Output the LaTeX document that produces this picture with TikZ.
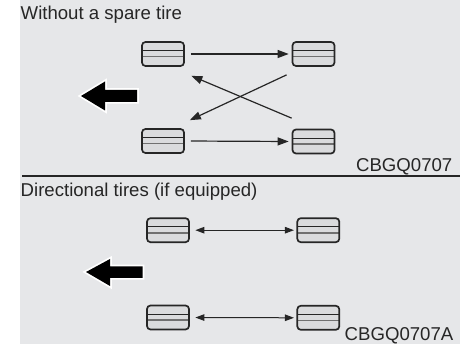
\documentclass[tikz,border=0pt]{standalone}
\usepackage{fontspec}
\setmainfont{Liberation Sans}
\usetikzlibrary{arrows.meta}
\definecolor{panelgrey}{HTML}{E6E7E9}
\definecolor{tirefill}{HTML}{DADBDD}
\definecolor{bandline}{HTML}{707070}
\tikzset{
  tire/.style={draw=black!85, line width=1.7pt, rounded corners=3.5pt, fill=tirefill,
    minimum width=42pt, minimum height=24pt, inner sep=0pt,
    path picture={
      \draw[black!85, line width=1.1pt] ([yshift=3.3pt]path picture bounding box.west) -- ([yshift=3.3pt]path picture bounding box.east);
      \draw[bandline, line width=1.6pt] ([yshift=-2.7pt]path picture bounding box.west) -- ([yshift=-2.7pt]path picture bounding box.east);
    }},
  rot/.style={line width=1.2pt, black!85, -{Triangle[length=11pt,width=8pt]}},
  dir/.style={line width=1pt, black!85, {Triangle[length=9pt,width=6.5pt]}-{Triangle[length=9pt,width=6.5pt]}},
  lbl/.style={font=\fontsize{18.6}{21}\selectfont, text=black!85, inner sep=0pt},
  fwd/.style={fill=black},
  halo/.style={draw=white, line width=3.5pt, line join=miter},
}
\begin{document}
\begin{tikzpicture}[x=1pt,y=-1pt]
\useasboundingbox (0,0) rectangle (460,344);
\fill[panelgrey] (20,0) rectangle (460,344);
% divider
\draw[black!85, line width=1.2pt] (22,176) -- (460,176);
% titles
\node[lbl, anchor=base west] (t1) at (20.5,20) {Without a spare tire};
\node[lbl, anchor=base east] (c1) at (452.5,172) {CBGQ0707};
\node[lbl, anchor=base west] (t2) at (20.5,197) {Directional tires (if equipped)};
\node[lbl, anchor=base east] (c2) at (453.5,340.5) {CBGQ0707A};
% upper panel tires
\node[tire] (tl) at (163,54) {};
\node[tire] (tr) at (313.5,54) {};
\node[tire] (bl) at (163,141) {};
\node[tire] (br) at (313.5,141.5) {};
\draw[rot, shorten <=6pt, shorten >=3pt] (tl.east) -- (tr.west);
\draw[rot, shorten <=6pt, shorten >=3pt] (bl.east) -- (br.west);
\draw[rot] ([shift={(-5,8)}]tr.south west) -- ([shift={(5,-8)}]bl.north east);
\draw[rot] ([shift={(0,-10.5)}]br.north west) -- ([shift={(6.5,9)}]tl.south east);
% upper forward arrow
\path[halo] (81,96) -- (105,81.5) -- (105,90) -- (137,90) -- (137,102) -- (105,102) -- (105,110.5) -- cycle;
\path[fwd] (81,96) -- (105,81.5) -- (105,90) -- (137,90) -- (137,102) -- (105,102) -- (105,110.5) -- cycle;
% lower panel tires
\node[tire] (tl2) at (168,230.2) {};
\node[tire] (tr2) at (318.3,230.2) {};
\node[tire] (bl2) at (168,317.5) {};
\node[tire] (br2) at (318.3,317.8) {};
\draw[dir, shorten <=5.5pt, shorten >=2.5pt] (tl2.east) -- (tr2.west);
\draw[dir, shorten <=5.5pt, shorten >=2.5pt] (bl2.east) -- (br2.west);
% lower forward arrow
\path[halo] (86,272) -- (110,259) -- (110,266.5) -- (142.5,266.5) -- (142.5,278) -- (110,278) -- (110,286) -- cycle;
\path[fwd] (86,272) -- (110,259) -- (110,266.5) -- (142.5,266.5) -- (142.5,278) -- (110,278) -- (110,286) -- cycle;
\end{tikzpicture}
\end{document}
